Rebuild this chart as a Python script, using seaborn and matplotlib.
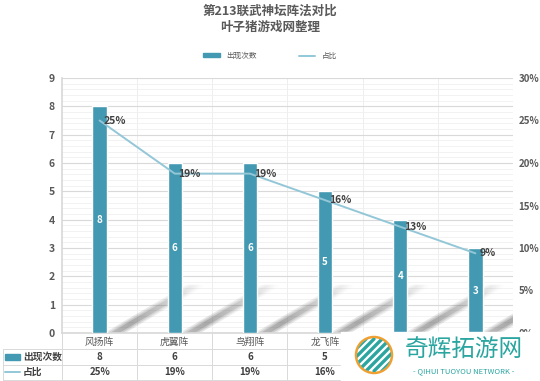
import numpy as np
import pandas as pd
import matplotlib
matplotlib.use("Agg")
import matplotlib.pyplot as plt
import matplotlib.transforms as mtransforms
from matplotlib.patches import Rectangle, Circle, Polygon
from matplotlib.lines import Line2D
import seaborn as sns

# ---- data ----
categories = ["风扬阵", "虎翼阵", "鸟翔阵", "龙飞阵", "云垂阵", "蛇蟠阵"]
counts = [8, 6, 6, 5, 4, 3]
shares = [0.25, 0.1875, 0.1875, 0.15625, 0.125, 0.09375]
share_labels = ["25%", "19%", "19%", "16%", "13%", "9%"]
visible_cols = 4  # the last two table columns sit under the watermark

TITLE = "第213联武神坛阵法对比\n叶子猪游戏网整理"
BAR_NAME, LINE_NAME = "出现次数", "占比"
BAR_C, LINE_C = "#4399B1", "#93C7D8"
TXT = "#595959"

sns.set_theme(style="white")
plt.rcParams["font.family"] = ["Noto Sans CJK SC", "DejaVu Sans"]

df = pd.DataFrame({"cat": categories, "n": counts, "x": np.arange(len(categories)), "p": shares})

fig = plt.figure(figsize=(5.4, 3.81), dpi=100)
ax = fig.add_axes([62 / 540, 1 - 333 / 381, 451 / 540, 255 / 381])

# soft diagonal shadows behind the bars (a few stacked bands fake the blur)
grad = np.zeros((2, 64, 4))
grad[..., :3] = 0.40
ramp = np.concatenate([np.linspace(0.35, 0.5, 16), np.linspace(0.5, 0.0, 48)])
SH_DX, SH_H = 1.09, 1.7
for i in df["x"]:
    for lo, hi, a in [(0.06, 0.34, 0.35), (0.10, 0.30, 0.45), (0.14, 0.26, 0.6)]:
        g = grad.copy()
        g[..., 3] = ramp[None, :] * a
        poly = Polygon([(i + lo, 0.0), (i + hi, 0.0), (i + hi + SH_DX, SH_H), (i + lo + SH_DX, SH_H)],
                       closed=True, transform=ax.transData, facecolor="none", edgecolor="none")
        ax.add_patch(poly)
        im = ax.imshow(g, extent=[i + lo, i + hi + SH_DX, 0, SH_H], aspect="auto",
                       interpolation="bilinear", zorder=1)
        im.set_clip_path(poly)

sns.barplot(data=df, x="cat", y="n", color=BAR_C, width=0.19, saturation=1,
            ax=ax, zorder=3)
ax.set_xlim(-0.5, len(categories) - 0.5)
ax.set_ylim(0, 9)
ax.set_yticks(range(10))
ax.set_yticks(np.arange(0, 9, 0.2), minor=True)
ax.grid(axis="y", which="major", color="#D9D9D9", lw=0.8, zorder=0)
ax.grid(axis="y", which="minor", color="#F0F0F0", lw=0.6, zorder=0)
for b in np.arange(0.5, len(categories) - 0.5, 1):
    ax.axvline(b, color="#EBEBEB", lw=0.6, zorder=0)
ax.set_axisbelow(True)
ax.set_xlabel("")
ax.set_ylabel("")
ax.set_xticks(df["x"])
ax.set_xticklabels([])
ax.tick_params(axis="x", length=0)
ax.tick_params(axis="y", which="both", length=0, labelsize=7.5, labelcolor=TXT, pad=5)
for t in ax.get_yticklabels():
    t.set_fontweight("bold")
for s in ax.spines.values():
    s.set_visible(False)
ax.spines["left"].set_visible(True)
ax.spines["left"].set_color("#D9D9D9")
ax.spines["bottom"].set_visible(True)
ax.spines["bottom"].set_color("#D9D9D9")

for xi, n in zip(df["x"], counts):
    ax.text(xi, n / 2, str(n), ha="center", va="center", color="white",
            fontsize=7, fontweight="bold", zorder=5)

ax2 = ax.twinx()
sns.lineplot(data=df, x="x", y="p", color=LINE_C, lw=1.4, ax=ax2, zorder=4)
ax2.set_ylim(0, 0.30)
ax2.set_yticks(np.arange(0, 0.31, 0.05))
ax2.set_yticklabels([f"{int(round(v * 100))}%" for v in np.arange(0, 0.31, 0.05)])
ax2.tick_params(axis="y", length=0, labelsize=7, labelcolor=TXT, pad=4)
for t in ax2.get_yticklabels():
    t.set_fontweight("bold")
ax2.set_xlabel("")
ax2.set_ylabel("")
for s in ax2.spines.values():
    s.set_visible(False)
ax2.set_xlim(-0.5, len(categories) - 0.5)
for xi, p, lab in zip(df["x"], shares, share_labels):
    ax2.text(xi + 0.05, p, lab, ha="left", va="center", color="#404040",
             fontsize=7.5, fontweight="bold", zorder=6)

# title and legend
fig.text(0.5, 1 - 19 / 381, TITLE, ha="center", va="center", fontsize=9,
         fontweight="bold", color=TXT, linespacing=1.35)
handles = [Rectangle((0, 0), 1, 1, color=BAR_C), Line2D([0], [0], color=LINE_C, lw=1.4)]
fig.legend(handles, [BAR_NAME, LINE_NAME], loc="center", ncol=2,
           bbox_to_anchor=(0.5, 1 - 56 / 381), frameon=False, fontsize=5.5,
           labelcolor=TXT, columnspacing=5.5, handlelength=2.2, handleheight=0.5)

# data table under the axis
tr = mtransforms.blended_transform_factory(ax.transData, fig.transFigure)
row_y = [1 - 342 / 381, 1 - 357 / 381, 1 - 372 / 381]
row_edges = [1 - 333 / 381, 1 - 349 / 381, 1 - 365 / 381, 1 - 380 / 381]
grid_c = "#D9D9D9"
for y in row_edges[1:]:
    fig.add_artist(Line2D([3 / 540, 513 / 540], [y, y], color=grid_c, lw=0.7))
for b in np.arange(-0.5, len(categories), 1):
    fig.add_artist(Line2D([b, b], [row_edges[0], row_edges[-1]], color=grid_c,
                          lw=0.7, transform=tr))
fig.add_artist(Line2D([3 / 540, 3 / 540], [row_edges[1], row_edges[-1]], color=grid_c, lw=0.7))
for xi, c, n, lab in list(zip(df["x"], categories, counts, share_labels))[:visible_cols]:
    fig.text(xi, row_y[0], c, transform=tr, ha="center", va="center", fontsize=7, color=TXT)
    fig.text(xi, row_y[1], str(n), transform=tr, ha="center", va="center", fontsize=7,
             color="#404040", fontweight="bold")
    fig.text(xi, row_y[2], lab, transform=tr, ha="center", va="center", fontsize=7,
             color="#404040", fontweight="bold")
fig.add_artist(Rectangle((5 / 540, row_y[1] - 0.008), 15 / 540, 0.016, color=BAR_C))
fig.text(23 / 540, row_y[1], BAR_NAME, ha="left", va="center", fontsize=7,
         color="#404040", fontweight="bold")
fig.add_artist(Line2D([5 / 540, 20 / 540], [row_y[2], row_y[2]], color=LINE_C, lw=1.4))
fig.text(23 / 540, row_y[2], LINE_NAME, ha="left", va="center", fontsize=7,
         color="#404040", fontweight="bold")

# watermark box
fig.add_artist(Rectangle((341 / 540, 0), 199 / 540, 49 / 381, color="white", zorder=10))
lax = fig.add_axes([352 / 540, 1 - 377 / 381, 44 / 540, 44 / 381], zorder=11)
lax.set_xlim(-1.1, 1.1)
lax.set_ylim(-1.1, 1.1)
lax.set_aspect("equal")
lax.axis("off")
lax.add_patch(Circle((0, 0), 0.9, facecolor="white", edgecolor="#F0A030", lw=1.8))
stripes = Circle((0, 0), 0.85, transform=lax.transData, facecolor="none", edgecolor="none")
lax.add_patch(stripes)
for k in np.linspace(-1.2, 1.2, 7):
    ln, = lax.plot([k - 0.8, k + 0.8], [-0.8, 0.8], color="#2AA5A0", lw=2.4)
    ln.set_clip_path(stripes)
fig.text(464 / 540, 1 - 350 / 381, "奇辉拓游网", ha="center", va="center", fontsize=17,
         color="#2AA5A0", zorder=12)
fig.text(464 / 540, 1 - 371 / 381, "- QIHUI TUOYOU NETWORK -", ha="center", va="center",
         fontsize=5.5, color="#2AA5A0", zorder=12)

fig.savefig("out.png", dpi=100)
